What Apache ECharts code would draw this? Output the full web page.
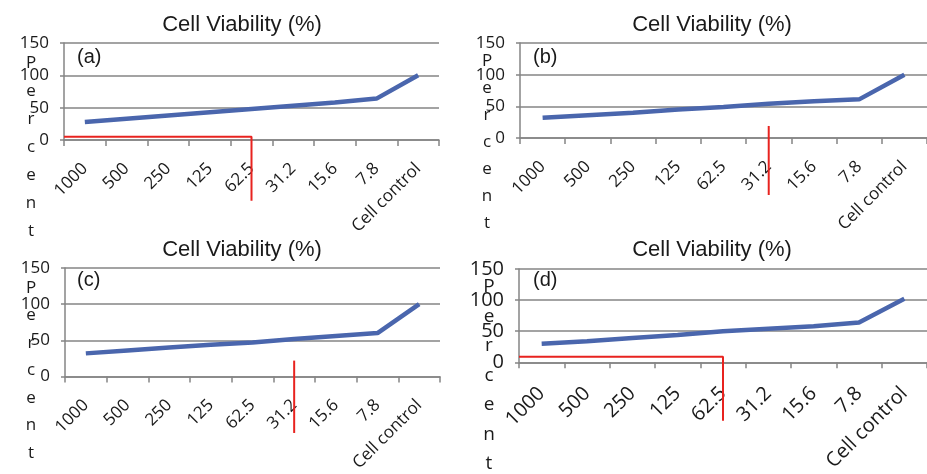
<!DOCTYPE html>
<html><head><meta charset="utf-8">
<script src="https://cdn.jsdelivr.net/npm/echarts@6/dist/echarts.min.js"></script>
<style>html,body{margin:0;padding:0;background:#fff}#c{width:927px;height:474px}</style>
</head><body><div id="c"></div>
<script>
// ---- data ----
const categories = ['1000','500','250','125','62.5','31.2','15.6','7.8','Cell control'];
const yTicks = [0, 50, 100, 150];
const viabilityA = [28, 33, 38, 43, 48, 53, 58, 64, 100];
const viabilityB = [32, 36, 40, 45, 49, 54, 58, 61, 100];
const viabilityC = [32, 36, 40, 44, 47, 52, 56, 60, 100];
const viabilityD = [30, 34, 39, 44, 50, 54, 58, 64, 102];
const panelLabels = ['(a)', '(b)', '(c)', '(d)'];
const chartTitle = 'Cell Viability (%)';
const yAxisTitle = 'Percent';
// IC50 marker (red) per panel: category, level value, lower end value, whether a horizontal leg is drawn
const ic50Category = ['62.5', '31.2', '31.2', '62.5'];
const ic50Level = [5, 19, 22, 9];
const ic50Bottom = [-94, -90, -78, -94];
const ic50Horizontal = [true, false, false, true];

const viability = [viabilityA, viabilityB, viabilityC, viabilityD];

// ---- layout / style (not data) ----
const panels = [
  {grid:{left:64, top:43, width:375, height:97}, yFont:17, xFont:17, margin:26, title:[242,25], label:[77,57], pct:[31,49], pctLH:28, pctFont:17},
  {grid:{left:520, top:43, width:417, height:95}, yFont:17, xFont:17, margin:26, title:[712,25], label:[533,57], pct:[487,48], pctLH:27, pctFont:17},
  {grid:{left:65, top:268, width:375, height:109}, yFont:17, xFont:17, margin:26, title:[242,250], label:[77,280], pct:[31,274], pctLH:27.5, pctFont:17},
  {grid:{left:519, top:269, width:415, height:101}, yFont:20, xFont:20, margin:28, title:[712,250], label:[533,280], pct:[489,272], pctLH:29.5, pctFont:19}
];
const gray = '#858585';
const FONT = 'Open Sans';

const option = {backgroundColor:'#fff', animation:false, title:[], grid:[], xAxis:[], yAxis:[], series:[]};

panels.forEach((p, i) => {
  option.grid.push(Object.assign({containLabel:false}, p.grid));
  option.title.push({text: chartTitle, left: p.title[0], top: p.title[1], padding:0, textAlign:'center', textVerticalAlign:'middle',
    textStyle:{fontFamily:'Liberation Sans', fontSize:22, fontWeight:'normal', color:'#1a1a1a'}});
  option.title.push({text: panelLabels[i], left: p.label[0], top: p.label[1], padding:0, textAlign:'left', textVerticalAlign:'middle',
    textStyle:{fontFamily:'Liberation Sans', fontSize:20, fontWeight:'normal', color:'#1a1a1a'}});
  option.title.push({text: yAxisTitle.split('').join('\n'), left: p.pct[0], top: p.pct[1], padding:0, textAlign:'center', textVerticalAlign:'top',
    textStyle:{fontFamily:FONT, fontSize:p.pctFont, fontWeight:'normal', color:'#1a1a1a', lineHeight:p.pctLH}});
  option.xAxis.push({type:'category', gridIndex:i, data:categories, boundaryGap:true,
    axisLine:{show:true, lineStyle:{color:gray, width:1.5}},
    axisTick:{show:true, length:6, lineStyle:{color:gray, width:1.5}, interval:0},
    axisLabel:{interval:0, rotate:45, margin:p.margin, fontFamily:FONT, fontSize:p.xFont, color:'#1a1a1a'},
    splitLine:{show:false}});
  option.xAxis.push({type:'value', gridIndex:i, min:0, max:categories.length, show:false});
  option.yAxis.push({type:'value', gridIndex:i, min:yTicks[0], max:yTicks[yTicks.length-1], interval:yTicks[1]-yTicks[0],
    axisLine:{show:true, lineStyle:{color:gray, width:1.5}},
    axisTick:{show:true, length:4, inside:false, lineStyle:{color:gray, width:1.5}},
    axisLabel:{margin:15, fontFamily:FONT, fontSize:p.yFont, color:'#1a1a1a'},
    splitLine:{show:true, lineStyle:{color:gray, width:1.5}}});
  option.series.push({type:'line', xAxisIndex:2*i, yAxisIndex:i, data:viability[i], symbol:'none',
    lineStyle:{color:'#4a66ad', width:4.5}, z:3});
  const cx = categories.indexOf(ic50Category[i]) + 0.5;
  const pts = [];
  if (ic50Horizontal[i]) pts.push([0, ic50Level[i]]);
  pts.push([cx, ic50Level[i]]);
  pts.push([cx, ic50Bottom[i]]);
  option.series.push({type:'line', xAxisIndex:2*i+1, yAxisIndex:i, data:pts, symbol:'none', clip:false,
    lineStyle:{color:'#e8231f', width:2}, z:4});
});

const chart = echarts.init(document.getElementById('c'), null, {renderer:'canvas'});
chart.setOption(option);
</script>
</body></html>
